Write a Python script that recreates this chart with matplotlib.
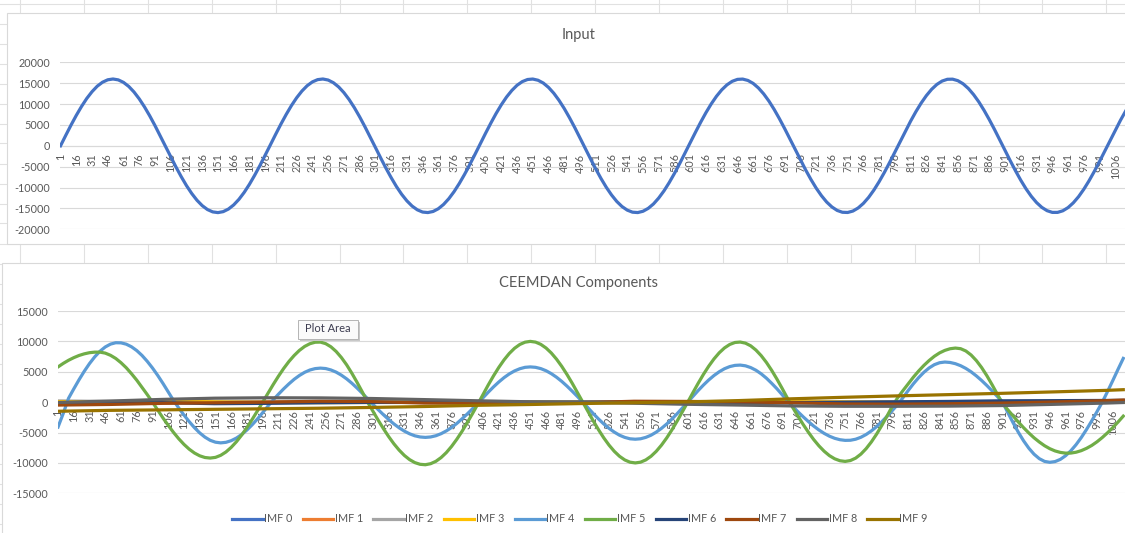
import matplotlib
matplotlib.use("Agg")
import matplotlib.pyplot as plt
from matplotlib.lines import Line2D
from matplotlib.patches import Rectangle

W, H, DPI = 1125, 533, 100

# ---------------- data ----------------
# samples read every 5 categories (1, 6, 11, ..., 1016)
sample_idx = list(range(1, 1017, 5))

input_vals = [
    0, 2510, 4960, 7280, 9420, 11340, 12960, 14280, 15230, 15810,
    16000, 15790, 15190, 14220, 12890, 11240, 9320, 7170, 4840, 2380,
    -130, -2630, -5080, -7390, -9530, -11420, -13040, -14330, -15270, -15830,
    -16000, -15770, -15150, -14160, -12820, -11160, -9220, -7050, -4720, -2260,
    250, 2760, 5200, 7500, 9630, 11510, 13110, 14390, 15310, 15850,
    16000, 15750, 15110, 14100, 12740, 11070, 9120, 6940, 4590, 2130,
    -380, -2880, -5320, -7610, -9730, -11600, -13180, -14440, -15340, -15870,
    -15990, -15730, -15070, -14040, -12660, -10970, -9010, -6830, -4470, -2010,
    510, 3010, 5430, 7730, 9830, 11690, 13250, 14500, 15380, 15880,
    15990, 15700, 15030, 13980, 12590, 10880, 8910, 6710, 4350, 1880,
    -630, -3130, -5550, -7840, -9930, -11770, -13330, -14550, -15410, -15900,
    -15990, -15680, -14980, -13920, -12500, -10790, -8800, -6600, -4230, -1760,
    760, 3250, 5670, 7950, 10030, 11860, 13400, 14600, 15450, 15910,
    15980, 15650, 14940, 13850, 12430, 10700, 8700, 6480, 4110, 1630,
    -880, -3380, -5790, -8060, -10130, -11940, -13470, -14650, -15480, -15920,
    -15970, -15630, -14890, -13790, -12350, -10600, -8590, -6370, -3990, -1510,
    1010, 3500, 5910, 8170, 10220, 12020, 13530, 14700, 15510, 15930,
    15960, 15600, 14850, 13730, 12260, 10510, 8480, 6250, 3870, 1380,
    -1140, -3620, -6020, -8270, -10320, -12110, -13600, -14750, -15540, -15950,
    -15950, -15570, -14800, -13660, -12190, -10410, -8380, -6140, -3740, -1260,
    1260, 3750, 6140, 8380]

imf4_vals = [
    -4100, -1850, 630, 2180, 3680, 5080, 6350, 7460, 8380, 9080,
    9550, 9780, 9760, 9540, 9110, 8490, 7690, 6720, 5620, 4400,
    3080, 1700, 290, -950, -2120, -3210, -4200, -5060, -5760, -6280,
    -6590, -6700, -6610, -6340, -5910, -5320, -4580, -3720, -2770, -1730,
    -660, 370, 1300, 2190, 3010, 3760, 4390, 4910, 5290, 5520,
    5600, 5530, 5300, 4940, 4440, 3830, 3110, 2310, 1450, 550,
    -350, -1220, -2060, -2850, -3580, -4220, -4770, -5210, -5540, -5730,
    -5800, -5730, -5530, -5190, -4730, -4170, -3500, -2740, -1930, -1070,
    -180, 740, 1650, 2520, 3320, 4040, 4650, 5140, 5500, 5730,
    5800, 5730, 5520, 5170, 4690, 4100, 3410, 2630, 1790, 910,
    0, -950, -1880, -2770, -3590, -4310, -4930, -5440, -5800, -6030,
    -6100, -6030, -5800, -5440, -4930, -4310, -3590, -2770, -1880, -950,
    0, 970, 1920, 2820, 3650, 4380, 5000, 5500, 5850, 6050,
    6100, 5980, 5690, 5250, 4660, 3940, 3100, 2200, 1220, 200,
    -700, -1580, -2410, -3200, -3930, -4580, -5140, -5600, -5950, -6180,
    -6290, -6270, -6100, -5780, -5320, -4730, -4020, -3210, -2320, -1370,
    -400, 720, 1900, 3020, 4030, 4910, 5630, 6170, 6490, 6600,
    6530, 6330, 6000, 5550, 4990, 4320, 3570, 2740, 1860, 940,
    0, -1720, -3390, -4950, -6360, -7580, -8570, -9300, -9750, -9900,
    -9780, -9420, -8820, -8010, -7000, -5820, -4490, -3060, -1550, 0,
    1750, 3550, 5400, 7200]

imf5_vals = [
    5800, 6380, 6890, 7320, 7680, 7950, 8140, 8230, 8230, 8070,
    7710, 7190, 6490, 5660, 4680, 3620, 2450, 1250, 0, -1310,
    -2600, -3820, -4970, -6020, -6950, -7740, -8370, -8830, -9110, -9200,
    -9090, -8750, -8200, -7440, -6510, -5410, -4180, -2840, -1440, 0,
    1460, 2890, 4260, 5540, 6690, 7680, 8520, 9170, 9620, 9860,
    9880, 9630, 9110, 8340, 7340, 6140, 4750, 3240, 1650, 0,
    -1490, -2950, -4350, -5660, -6850, -7890, -8770, -9460, -9950, -10230,
    -10300, -10130, -9740, -9120, -8300, -7280, -6100, -4790, -3350, -1860,
    -310, 1280, 2850, 4340, 5720, 6960, 8020, 8870, 9490, 9870,
    10000, 9880, 9510, 8910, 8090, 7070, 5880, 4540, 3090, 1560,
    0, -1560, -3090, -4540, -5880, -7070, -8090, -8910, -9510, -9880,
    -10000, -9880, -9510, -8910, -8090, -7070, -5880, -4540, -3090, -1560,
    0, 1580, 3120, 4580, 5920, 7110, 8120, 8920, 9490, 9820,
    9890, 9710, 9270, 8570, 7650, 6530, 5230, 3790, 2250, 650,
    -870, -2290, -3670, -4960, -6150, -7190, -8080, -8800, -9320, -9640,
    -9750, -9610, -9210, -8550, -7650, -6540, -5250, -3810, -2260, -650,
    710, 1880, 3010, 4110, 5120, 6040, 6850, 7550, 8110, 8520,
    8790, 8900, 8800, 8420, 7760, 6840, 5700, 4360, 2870, 1300,
    -210, -1260, -2270, -3270, -4200, -5070, -5870, -6560, -7170, -7660,
    -8030, -8270, -8390, -8380, -8240, -7980, -7600, -7120, -6520, -5820,
    -5040, -4190, -3270, -2300]

# slowly varying components, read every 50 categories
knot_idx = [1, 50, 100, 150, 200, 250, 300, 350, 400, 450, 500,
            550, 600, 650, 700, 750, 800, 850, 900, 950, 1000, 1016]
imf0_vals = [-150, 60, -40, 30, -20, 40, -30, 20, -40, 30, -20,
             10, -30, 20, -10, 30, -20, 10, -30, 20, -10, 0]
imf1_vals = [80, -50, 40, -60, 30, -20, 50, -40, 20, -30, 40,
             -20, 30, -50, 20, -10, 40, -30, 20, -20, 10, 0]
imf2_vals = [200, 120, 60, 20, -30, -60, -40, 0, 40, 60, 30,
             -10, -40, -50, -20, 20, 40, 30, 0, -30, -20, 0]
imf3_vals = [100, 80, 150, 50, -50, -80, -50, 30, 60, 20, -30,
             -60, -20, 30, 60, 20, -40, -50, 0, 40, 20, 0]
imf6_vals = [-200, -150, -80, -250, -200, -100, -50, -50, -30, -20, 0,
             20, 0, -50, -80, -20, 50, 120, 220, 250, 280, 300]
imf7_vals = [-480, -380, -200, -100, 0, 150, 100, -150, -200, -130, -100,
             150, 120, 40, -100, -300, -330, -260, -150, 30, 250, 350]
imf8_vals = [-50, 180, 450, 650, 720, 700, 600, 420, 230, 60, -30,
             -180, -350, -480, -620, -680, -680, -650, -560, -360, -150, -60]
imf9_vals = [-1500, -1350, -1270, -1180, -1090, -1000, -870, -720, -520, -390, -230,
             -90, 40, 260, 550, 800, 1030, 1240, 1450, 1690, 1940, 2050]

imf_names = ["IMF 0", "IMF 1", "IMF 2", "IMF 3", "IMF 4",
             "IMF 5", "IMF 6", "IMF 7", "IMF 8", "IMF 9"]
x_tick_labels = list(range(1, 1007, 15))
top_yticks = [-20000, -15000, -10000, -5000, 0, 5000, 10000, 15000, 20000]
bot_yticks = [-15000, -10000, -5000, 0, 5000, 10000, 15000]

# ---------------- style ----------------
FONT = ["Lato", "DejaVu Sans"]
plt.rcParams['font.family'] = FONT
TXT = "#595959"
GRID = "#d9d9d9"
colors = ["#4472C4", "#ED7D31", "#A5A5A5", "#FFC000", "#5B9BD5",
          "#70AD47", "#264478", "#9E480E", "#636363", "#997300"]
LW = 2.3
FS = 7.8

fig = plt.figure(figsize=(W / DPI, H / DPI), dpi=DPI)
fig.patch.set_facecolor("white")


def fx(px):
    return px / W


def fy(py):
    return 1 - py / H


# spreadsheet cell grid
CELL = "#e1e1e1"
for k in range(19):
    x = 20 + 63.9 * k
    fig.add_artist(Line2D([fx(x), fx(x)], [0, 1], color=CELL, lw=0.8, zorder=-5))
for j in range(28):
    y = 3.5 + 20 * j
    fig.add_artist(Line2D([0, 1], [fy(y), fy(y)], color=CELL, lw=0.8, zorder=-5))

# chart frames
fig.add_artist(Rectangle((fx(7), fy(244)), fx(1140 - 7), (244 - 13) / H,
                         facecolor="white", edgecolor=GRID, lw=0.8, zorder=-3))
fig.add_artist(Rectangle((fx(1.5), fy(545)), fx(1140 - 1.5), (545 - 263) / H,
                         facecolor="white", edgecolor=GRID, lw=0.8, zorder=-3))


def style_axes(ax, yticks):
    ax.set_facecolor("none")
    for s in ["top", "right", "left"]:
        ax.spines[s].set_visible(False)
    ax.spines["bottom"].set_position(("data", 0))
    ax.spines["bottom"].set_color(GRID)
    ax.spines["bottom"].set_linewidth(0.8)
    ax.set_yticks(yticks)
    ax.set_yticklabels([str(v) for v in yticks])
    ax.set_xticks(x_tick_labels)
    ax.set_xticklabels([str(v) for v in x_tick_labels], rotation=90)
    ax.tick_params(axis="y", length=0, pad=7, labelsize=FS, labelcolor=TXT)
    ax.tick_params(axis="x", length=0, pad=5.5, labelsize=FS, labelcolor=TXT)
    ax.grid(axis="y", color=GRID, lw=0.8)
    ax.set_xlim(0.5, 1020.5)


# ---------------- top chart ----------------
ax1 = fig.add_axes([fx(60), fy(229.3), fx(1070.5), (229.3 - 62.3) / H])
style_axes(ax1, top_yticks)
ax1.set_ylim(-20000, 20000)
ax1.plot(sample_idx, input_vals, color="#4472C4", lw=LW, zorder=3,
         solid_joinstyle="round")
fig.text(fx(578.5), fy(35), "Input", ha="center", va="center",
         fontsize=10.5, color=TXT)

# ---------------- bottom chart ----------------
ax2 = fig.add_axes([fx(57.5), fy(493.3), fx(1070.5), (493.3 - 311) / H])
style_axes(ax2, bot_yticks)
ax2.set_ylim(-15000, 15000)
series = [
    (knot_idx, imf0_vals), (knot_idx, imf1_vals), (knot_idx, imf2_vals),
    (knot_idx, imf3_vals), (sample_idx, imf4_vals), (sample_idx, imf5_vals),
    (knot_idx, imf6_vals), (knot_idx, imf7_vals), (knot_idx, imf8_vals),
    (knot_idx, imf9_vals),
]
handles = []
for i, (xs, ys) in enumerate(series):
    ln, = ax2.plot(xs, ys, color=colors[i], lw=LW, zorder=3 + i * 0.01,
                   solid_joinstyle="round", label=imf_names[i])
    handles.append(ln)
fig.text(fx(578.5), fy(283), "CEEMDAN Components", ha="center", va="center",
         fontsize=10.5, color=TXT)

leg = fig.legend(handles=handles, labels=imf_names, loc="center",
                 bbox_to_anchor=(fx(580), fy(519)), ncol=10, frameon=False,
                 fontsize=FS, handlelength=2.8, handletextpad=0.15,
                 columnspacing=0.95, borderaxespad=0)
for t in leg.get_texts():
    t.set_color(TXT)

# "Plot Area" tooltip
fig.add_artist(Rectangle((fx(300), fy(340.5)), fx(60), 19 / H,
                         facecolor="#c8c8c8", edgecolor="none", zorder=10))
fig.add_artist(Rectangle((fx(298), fy(338.5)), fx(60), 19 / H,
                         facecolor="#fafafa", edgecolor="#b4b4b4", lw=0.7, zorder=11))
fig.text(fx(328), fy(328.5), "Plot Area", ha="center", va="center",
         fontsize=8, color="#3c3c50", zorder=12)

fig.savefig("out.png", dpi=DPI)
